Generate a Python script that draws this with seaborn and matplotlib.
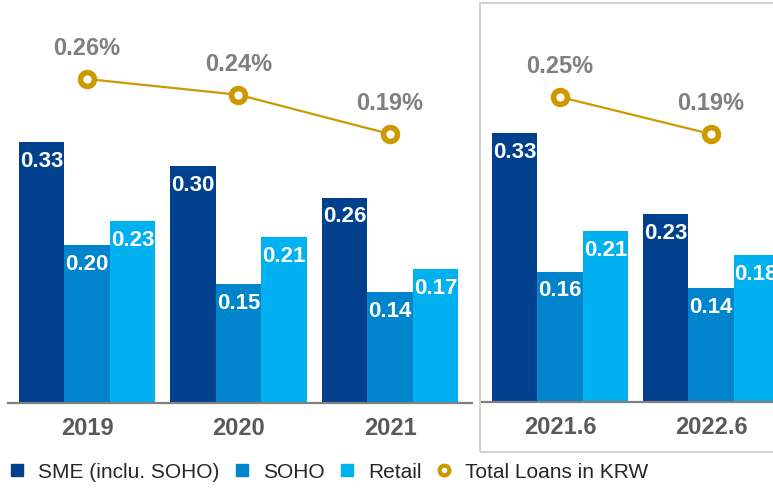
import matplotlib
matplotlib.use("Agg")
import matplotlib.pyplot as plt
from matplotlib.lines import Line2D
from matplotlib.patches import Rectangle
import pandas as pd
import seaborn as sns

# ---------------------------------------------------------------------------
# Data
# ---------------------------------------------------------------------------
years = ["2019", "2020", "2021"]
sme_annual = [0.33, 0.30, 0.26]
soho_annual = [0.20, 0.15, 0.14]
retail_annual = [0.23, 0.21, 0.17]
total_annual = [0.26, 0.24, 0.19]

halves = ["2021.6", "2022.6"]
sme_half = [0.33, 0.23]
soho_half = [0.16, 0.14]
retail_half = [0.21, 0.18]
total_half = [0.25, 0.19]

series = ["SME (inclu. SOHO)", "SOHO", "Retail"]
line_name = "Total Loans in KRW"

# Styling
sns.set_theme(style="white")
plt.rcParams["font.family"] = ["Liberation Sans", "DejaVu Sans"]
COLORS = ["#00408C", "#0084CC", "#00B0F0"]
GOLD = "#CC9900"
W, H = 773, 490


def long_frame(periods, sme, soho, retail):
    rows = []
    for name, vals in zip(series, [sme, soho, retail]):
        for p, v in zip(periods, vals):
            rows.append({"period": p, "series": name, "value": v})
    return pd.DataFrame(rows)


def draw_panel(ax, periods, sme, soho, retail, total, xlim, ylim, line_ylim):
    df = long_frame(periods, sme, soho, retail)
    sns.barplot(data=df, x="period", y="value", hue="series", order=periods,
                hue_order=series, palette=COLORS, saturation=1, width=0.9, gap=0,
                linewidth=0, legend=False, ax=ax)

    # white value labels inside the bar tops
    for cont, vals in zip(ax.containers, [sme, soho, retail]):
        for bar, v in zip(cont, vals):
            ax.annotate(f"{v:.2f}", (bar.get_x() + bar.get_width() / 2, bar.get_height()),
                        xytext=(0, -14), textcoords="offset points",
                        ha="center", va="center", color="white",
                        fontsize=16, fontweight="bold", annotation_clip=False)

    ax.set_xlim(*xlim)
    ax.set_ylim(*ylim)
    ax.set_xlabel("")
    ax.set_ylabel("")
    ax.set_yticks([])
    for s in ["top", "left", "right"]:
        ax.spines[s].set_visible(False)
    ax.spines["bottom"].set_color("#808080")
    ax.spines["bottom"].set_linewidth(1.6)
    ax.tick_params(axis="x", length=0, pad=10, labelsize=17, labelcolor="#595959")
    for t in ax.get_xticklabels():
        t.set_fontweight("bold")

    # total loans line on its own scale
    ax2 = ax.twinx()
    sns.lineplot(x=list(range(len(periods))), y=total, ax=ax2, color=GOLD,
                 linewidth=1.6, marker="o", markersize=10,
                 markerfacecolor="white", markeredgecolor=GOLD, markeredgewidth=4)
    for i, v in enumerate(total):
        ax2.annotate(f"{v:.2f}%", (i, v), xytext=(0, 22), textcoords="offset points",
                     ha="center", va="center", color="#7F7F7F",
                     fontsize=17, fontweight="bold")
    ax2.set_ylim(*line_ylim)
    ax2.set_xlim(*xlim)
    ax2.axis("off")


fig = plt.figure(figsize=(W / 100, H / 100), dpi=100)

ax_l = fig.add_axes([8 / W, (H - 403) / H, 464 / W, 403 / H])
draw_panel(ax_l, years, sme_annual, soho_annual, retail_annual, total_annual,
           xlim=(-0.521, 2.541), ylim=(0, 0.51), line_ylim=(-0.152, 0.3605))

ax_r = fig.add_axes([482 / W, (H - 402) / H, 291 / W, 402 / H])
draw_panel(ax_r, halves, sme_half, soho_half, retail_half, total_half,
           xlim=(-0.517, 1.411), ylim=(0, 0.493), line_ylim=(-0.2443, 0.4072))

# frame around the half-year panel
fig.patches.append(Rectangle((480 / W, (H - 452) / H), 300 / W, 449 / H,
                             transform=fig.transFigure, fill=False,
                             edgecolor="#C8C8C8", linewidth=1.2))

handles = [Line2D([], [], linestyle="none", marker="s", markersize=9,
                  markerfacecolor=c, markeredgecolor=c) for c in COLORS]
handles.append(Line2D([], [], linestyle="none", marker="o", markersize=7,
                      markerfacecolor="white", markeredgecolor=GOLD, markeredgewidth=3))
fig.legend(handles, series + [line_name], loc="center left",
           bbox_to_anchor=(0.0, (H - 472) / H), ncol=4, frameon=False,
           fontsize=15, handlelength=0.8, handletextpad=0.6, columnspacing=0.7,
           borderaxespad=0)

fig.savefig("out.png", dpi=100)
plt.close(fig)
